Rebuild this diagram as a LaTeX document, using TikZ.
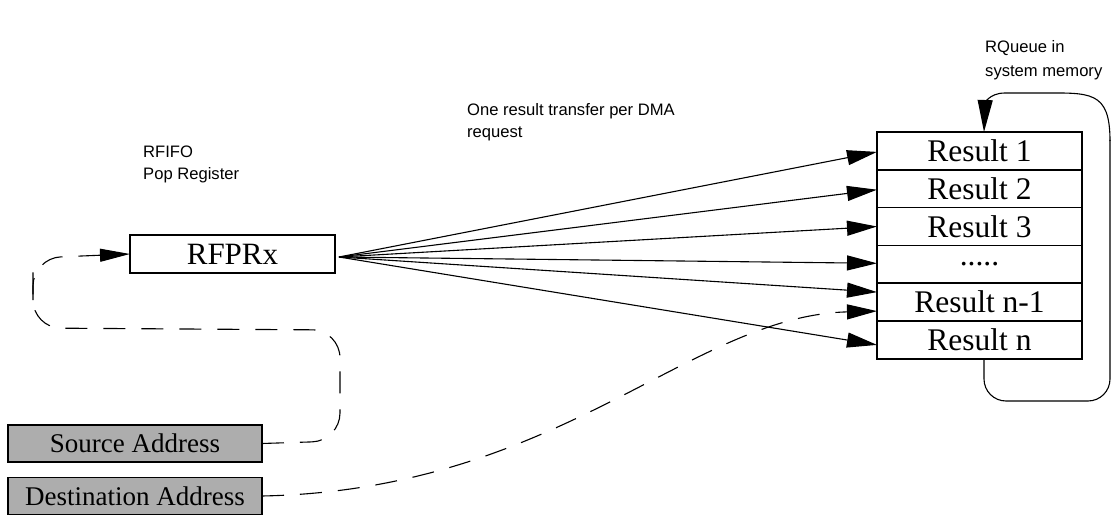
\documentclass[tikz,border=0pt]{standalone}
\usepackage{fontspec}
\setmainfont{Liberation Serif}
\newfontfamily\labelfont{Liberation Sans}
\usetikzlibrary{arrows.meta}
\tikzset{
  box/.style={draw, line width=1.8pt, inner sep=0pt, outer sep=0pt, font=\fontsize{31}{34}\selectfont},
  rowbox/.style={box, minimum width=205pt, minimum height=37.8pt, font=\fontsize{31.5}{34}\selectfont},
  addrbox/.style={draw, line width=1.8pt, fill=black!32, inner sep=0pt, outer sep=0pt, minimum width=254pt, minimum height=37pt, font=\fontsize{27}{30}\selectfont},
  lbl/.style={anchor=base west, inner sep=0pt, font=\labelfont\fontsize{16.6}{20}\selectfont},
  arr/.style={line width=1.1pt, -{Triangle[length=30pt,width=15pt]}},
  darr/.style={line width=1.1pt, dash pattern=on 22pt off 16pt},
}
\begin{document}
\begin{tikzpicture}[x=1pt,y=-1pt]
\useasboundingbox (0,0) rectangle (1112,516);
% labels
\node[lbl] (l1) at (985,53) {RQueue in};
\node[lbl] (l2) at (985,77) {system memory};
\node[lbl] (l3) at (467,116) {One result transfer per DMA};
\node[lbl] (l4) at (467,138) {request};
\node[lbl] (l5) at (143,158) {RFIFO};
\node[lbl] (l6) at (143,180) {Pop Register};
% boxes
\node[box, minimum width=205pt, minimum height=38pt] (rfprx) at (232.5,254) {RFPRx};
\node[rowbox] (r1) at (979.5,150.9) {Result 1};
\node[rowbox, anchor=north] (r2) at (r1.south) {Result 2};
\node[rowbox, anchor=north] (r3) at (r2.south) {Result 3};
\node[rowbox, anchor=north] (r4) at (r3.south) {.....};
\node[rowbox, anchor=north] (r5) at (r4.south) {Result n-1};
\node[rowbox, anchor=north] (r6) at (r5.south) {Result n};
\node[addrbox] (src) at (135,443.5) {Source Address};
\node[addrbox] (dst) at (135,496) {Destination Address};
% fan of arrows
\coordinate (fan) at ([xshift=4pt,yshift=-3pt]rfprx.east);
\draw[arr] (fan) -- ([yshift=-1pt]r1.west);
\draw[arr] (fan) -- ([yshift=-1pt]r2.west);
\draw[arr] (fan) -- (r3.west);
\draw[arr] (fan) -- ([yshift=1pt]r4.west);
\draw[arr] (fan) -- ([yshift=10pt]r5.west);
\draw[arr] (fan) -- ([yshift=-5pt]r6.west);
% dashed paths
\draw[darr, rounded corners=28pt] (src.east) -- (340,441) -- (340,330) -- (33,328) -- (33,258);
\draw[darr, rounded corners=28pt, -{Triangle[length=30pt,width=13pt]}] (33,300) -- (33,258) -- (rfprx.west);
\draw[darr, -{Triangle[length=30pt,width=15pt]}] (dst.east) .. controls (560,490) and (690,316) .. ([yshift=-9pt]r5.west);
% loop
\coordinate (lb) at ([xshift=4.5pt]r6.south);
\coordinate (lt) at ([xshift=4.5pt]r1.north);
\draw[line width=1.1pt, rounded corners=22pt] (lb) -- (984,401) -- (1110,401) -- (1110,140);
\draw[line width=1.1pt, -{Triangle[length=32pt,width=15pt]}] (1110,141) .. controls (1110,90) and (1090,93) .. (1040,93) -- (1005,93) .. controls (988,93) and (985,105) .. (lt);
\end{tikzpicture}
\end{document}
